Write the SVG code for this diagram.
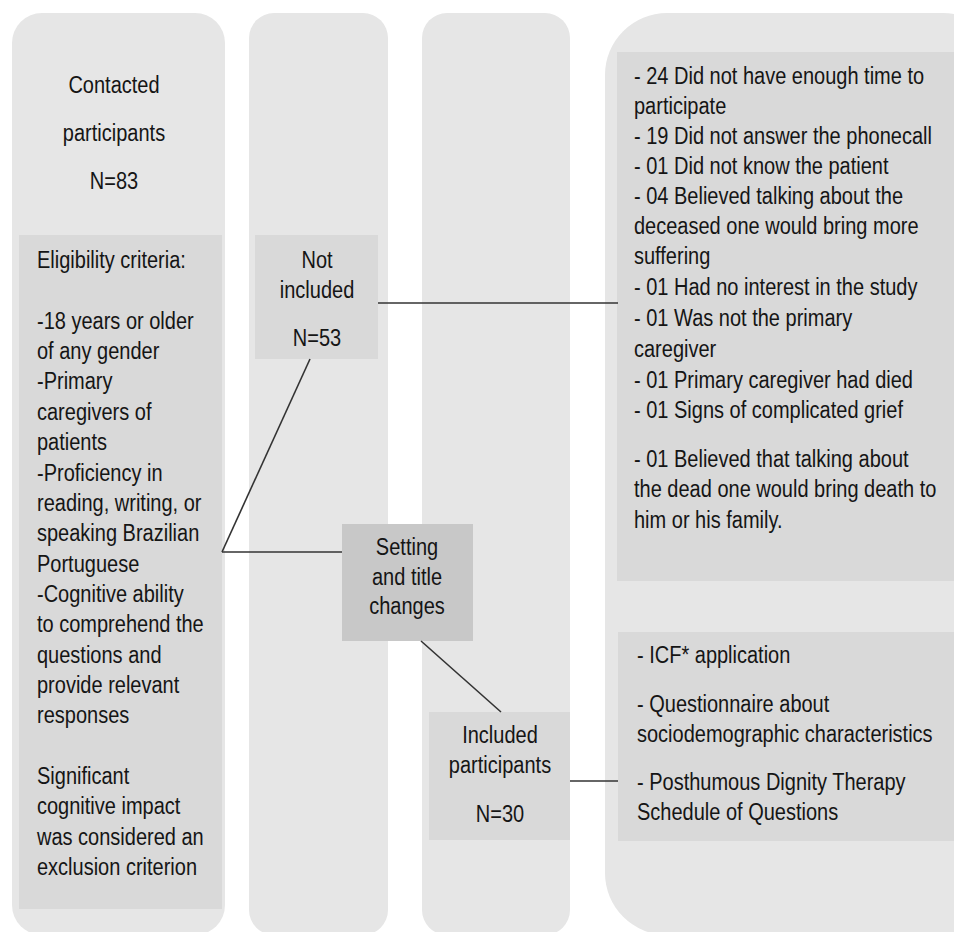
<svg xmlns="http://www.w3.org/2000/svg" width="954" height="932" viewBox="0 0 954 932">
<style>
.col{fill:#e6e6e6}
.box{fill:#d9d9d9}
.dark{fill:#c8c8c8}
text{font-family:"Liberation Sans",Arial,sans-serif;font-size:20px;fill:#151515}
.c{text-anchor:middle}
.ln{stroke:#333;stroke-width:1.6;fill:none}
</style>
<rect width="954" height="932" fill="#ffffff"/>
<g id="columns">
<rect class="col" x="12" y="13" width="213" height="922" rx="30"/>
<rect class="col" x="249" y="13" width="139" height="922" rx="25"/>
<rect class="col" x="422" y="13" width="148" height="922" rx="25"/>
<rect class="col" x="605" y="13" width="400" height="922" rx="62"/>
</g>
<g id="contacted">
<text class="c" transform="translate(114,93) scale(1,1.15)">Contacted</text>
<text class="c" transform="translate(114,141) scale(1,1.15)">participants</text>
<text class="c" transform="translate(114,189) scale(1,1.15)">N=83</text>
</g>
<g id="eligibility">
<rect class="box" x="19" y="235" width="203" height="674"/>
<text transform="translate(37,268) scale(1,1.15)">Eligibility criteria:</text>
<text transform="translate(37,328.7) scale(1,1.15)">-18 years or older</text>
<text transform="translate(37,359) scale(1,1.15)">of any gender</text>
<text transform="translate(37,389.4) scale(1,1.15)">-Primary</text>
<text transform="translate(37,419.8) scale(1,1.15)">caregivers of</text>
<text transform="translate(37,450.1) scale(1,1.15)">patients</text>
<text transform="translate(37,480.5) scale(1,1.15)">-Proficiency in</text>
<text transform="translate(37,510.8) scale(1,1.15)">reading, writing, or</text>
<text transform="translate(37,541.2) scale(1,1.15)">speaking Brazilian</text>
<text transform="translate(37,571.5) scale(1,1.15)">Portuguese</text>
<text transform="translate(37,601.9) scale(1,1.15)">-Cognitive ability</text>
<text transform="translate(37,632.2) scale(1,1.15)">to comprehend the</text>
<text transform="translate(37,662.6) scale(1,1.15)">questions and</text>
<text transform="translate(37,692.9) scale(1,1.15)">provide relevant</text>
<text transform="translate(37,723.3) scale(1,1.15)">responses</text>
<text transform="translate(37,784) scale(1,1.15)">Significant</text>
<text transform="translate(37,814.3) scale(1,1.15)">cognitive impact</text>
<text transform="translate(37,844.7) scale(1,1.15)">was considered an</text>
<text transform="translate(37,875) scale(1,1.15)">exclusion criterion</text>
</g>
<g id="not-included">
<rect class="box" x="255" y="235" width="123" height="124"/>
<text class="c" transform="translate(317,268) scale(1,1.15)">Not</text>
<text class="c" transform="translate(317,298) scale(1,1.15)">included</text>
<text class="c" transform="translate(317,346) scale(1,1.15)">N=53</text>
</g>
<g id="setting">
<rect class="dark" x="342" y="524" width="131" height="117"/>
<text class="c" transform="translate(407,555) scale(1,1.15)">Setting</text>
<text class="c" transform="translate(407,585) scale(1,1.15)">and title</text>
<text class="c" transform="translate(407,614) scale(1,1.15)">changes</text>
</g>
<g id="included">
<rect class="box" x="429" y="712" width="141" height="128"/>
<text class="c" transform="translate(500,743) scale(1,1.15)">Included</text>
<text class="c" transform="translate(500,773) scale(1,1.15)">participants</text>
<text class="c" transform="translate(500,822) scale(1,1.15)">N=30</text>
</g>
<g id="reasons">
<rect class="box" x="617" y="52" width="337" height="529"/>
<text transform="translate(634,84) scale(1,1.15)">- 24 Did not have enough time to</text>
<text transform="translate(634,114) scale(1,1.15)">participate</text>
<text transform="translate(634,144) scale(1,1.15)">- 19 Did not answer the phonecall</text>
<text transform="translate(634,174) scale(1,1.15)">- 01 Did not know the patient</text>
<text transform="translate(634,204) scale(1,1.15)">- 04 Believed talking about the</text>
<text transform="translate(634,234) scale(1,1.15)">deceased one would bring more</text>
<text transform="translate(634,264) scale(1,1.15)">suffering</text>
<text transform="translate(634,295) scale(1,1.15)">- 01 Had no interest in the study</text>
<text transform="translate(634,326) scale(1,1.15)">- 01 Was not the primary</text>
<text transform="translate(634,357) scale(1,1.15)">caregiver</text>
<text transform="translate(634,388) scale(1,1.15)">- 01 Primary caregiver had died</text>
<text transform="translate(634,418) scale(1,1.15)">- 01 Signs of complicated grief</text>
<text transform="translate(634,467) scale(1,1.15)">- 01 Believed that talking about</text>
<text transform="translate(634,497) scale(1,1.15)">the dead one would bring death to</text>
<text transform="translate(634,528) scale(1,1.15)">him or his family.</text>
</g>
<g id="instruments">
<rect class="box" x="618" y="632" width="336" height="209"/>
<text transform="translate(637,663) scale(1,1.15)">- ICF* application</text>
<text transform="translate(637,712) scale(1,1.15)">- Questionnaire about</text>
<text transform="translate(637,742) scale(1,1.15)">sociodemographic characteristics</text>
<text transform="translate(637,790) scale(1,1.15)">- Posthumous Dignity Therapy</text>
<text transform="translate(637,820) scale(1,1.15)">Schedule of Questions</text>
</g>
<g id="connectors">
<line class="ln" x1="378" y1="303" x2="618" y2="303"/>
<line class="ln" x1="222" y1="552" x2="310" y2="359"/>
<line class="ln" x1="222" y1="552" x2="342" y2="552"/>
<line class="ln" x1="421" y1="641" x2="501" y2="712"/>
<line class="ln" x1="570" y1="781" x2="618" y2="781"/>
</g>
</svg>
